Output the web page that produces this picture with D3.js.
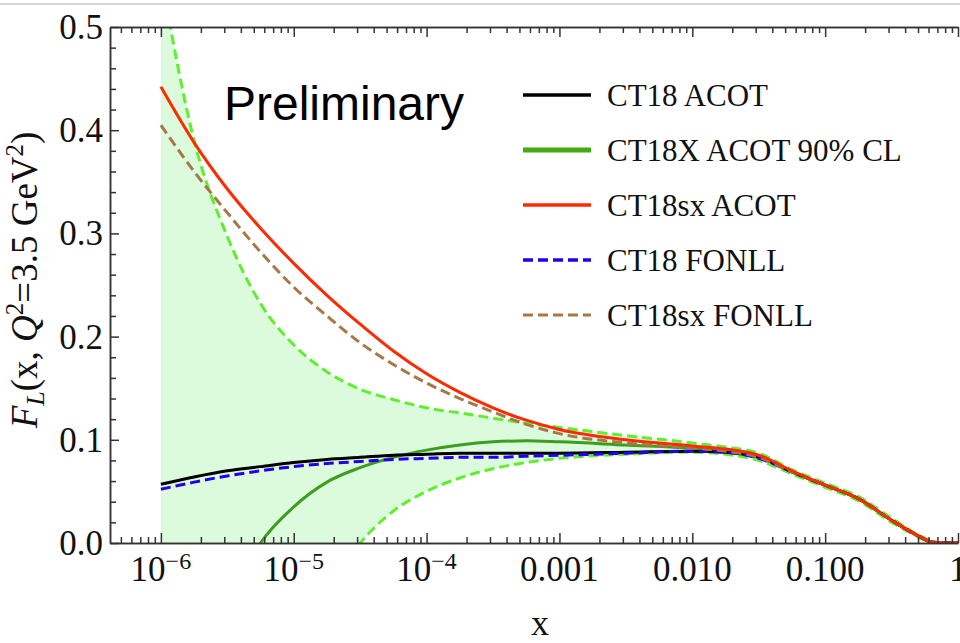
<!DOCTYPE html>
<html>
<head>
<meta charset="utf-8">
<script src="https://cdn.jsdelivr.net/npm/d3@7"></script>
<style>
  body { margin: 0; background: #fff; }
  svg { display: block; }
</style>
</head>
<body>
<div id="chart"></div>
<script>
// x grid as log10(x)
const logX = [-6, -5.75, -5.5, -5.25, -5, -4.75, -4.5, -4.25, -4, -3.75, -3.5, -3.25, -3,
              -2.5, -2, -1.75, -1.5, -1.25, -1, -0.75, -0.5, -0.3, -0.2, -0.1, 0];

const ct18Acot   = [0.057, 0.064, 0.070, 0.074, 0.078, 0.081, 0.083, 0.085, 0.086, 0.087, 0.087, 0.087, 0.087,
                    0.088, 0.089, 0.088, 0.083, 0.069, 0.056, 0.043, 0.022, 0.007, 0.001, 0, 0];
const ct18xMid   = [-0.20, -0.13, -0.06, 0.0, 0.035, 0.059, 0.073, 0.083, 0.090, 0.095, 0.098, 0.099, 0.098,
                    0.095, 0.092, 0.090, 0.084, 0.069, 0.056, 0.043, 0.022, 0.007, 0.001, 0, 0];
const ct18xUp    = [0.55, 0.39, 0.297, 0.232, 0.192, 0.166, 0.149, 0.139, 0.131, 0.126, 0.121, 0.116, 0.112,
                    0.104, 0.097, 0.093, 0.087, 0.071, 0.058, 0.045, 0.024, 0.008, 0.002, 0, 0];
const ct18xLow   = [-0.44, -0.34, -0.25, -0.17, -0.10, -0.045, 0.0, 0.031, 0.050, 0.063, 0.072, 0.078, 0.082,
                    0.086, 0.088, 0.086, 0.080, 0.067, 0.054, 0.041, 0.020, 0.006, 0, 0, 0];
const ct18sxAcot = [0.442, 0.388, 0.343, 0.305, 0.271, 0.240, 0.212, 0.186, 0.164, 0.146, 0.131, 0.119, 0.110,
                    0.100, 0.094, 0.091, 0.085, 0.070, 0.056, 0.043, 0.022, 0.007, 0.001, 0, 0];
const ct18Fonll  = [0.052, 0.059, 0.065, 0.070, 0.074, 0.077, 0.079, 0.081, 0.082, 0.083, 0.083, 0.084, 0.085,
                    0.087, 0.089, 0.088, 0.082, 0.069, 0.056, 0.043, 0.022, 0.007, 0.001, 0, 0];
const ct18sxFonll= [0.405, 0.360, 0.320, 0.282, 0.248, 0.220, 0.194, 0.173, 0.155, 0.140, 0.127, 0.115, 0.106,
                    0.097, 0.092, 0.089, 0.083, 0.069, 0.056, 0.043, 0.022, 0.007, 0.001, 0, 0];

const legendNames = ["CT18 ACOT", "CT18X ACOT 90% CL", "CT18sx ACOT", "CT18 FONLL", "CT18sx FONLL"];
const yTicks = [0, 0.1, 0.2, 0.3, 0.4, 0.5];
const xTicks = [1e-6, 1e-5, 1e-4, 1e-3, 1e-2, 1e-1, 1];
const xTickBase = ["10", "10", "10", "0.001", "0.010", "0.100", "1"];
const xTickExp  = ["−6", "−5", "−4", "", "", "", ""];

const W = 960, H = 643;
const mLeft = 110, mRight = 958, mTop = 27, mBottom = 543;

const svg = d3.select("#chart").append("svg")
  .attr("width", W)
  .attr("height", H);

// thin gray border line at top of the screenshot
svg.append("line")
  .attr("x1", 0).attr("x2", W).attr("y1", 4).attr("y2", 4)
  .attr("stroke", "#c8c8c8").attr("stroke-width", 1.5);

const x = d3.scaleLog().domain([Math.pow(10, -6.383), 1]).range([mLeft, mRight]);
const y = d3.scaleLinear().domain([0, 0.5]).range([mBottom, mTop]);

svg.append("clipPath").attr("id", "plotclip")
  .append("rect")
  .attr("x", mLeft).attr("y", mTop)
  .attr("width", mRight - mLeft).attr("height", mBottom - mTop);

const plot = svg.append("g").attr("clip-path", "url(#plotclip)");

const pts = vals => vals.map((v, i) => [Math.pow(10, logX[i]), v]);

// band
const band = d3.area()
  .x(d => x(d[0]))
  .y0(d => y(d[2]))
  .y1(d => y(d[1]))
  .curve(d3.curveMonotoneX);
plot.append("path")
  .datum(logX.map((l, i) => [Math.pow(10, l), ct18xUp[i], ct18xLow[i]]))
  .attr("d", band)
  .attr("fill", "#dcfadc");

const line = d3.line()
  .x(d => x(d[0]))
  .y(d => y(d[1]))
  .curve(d3.curveMonotoneX);

const series = [
  {vals: ct18xUp,     color: "#5ef02e", width: 3,   dash: "10,5"},
  {vals: ct18xLow,    color: "#5ef02e", width: 3,   dash: "10,5"},
  {vals: ct18xMid,    color: "#3c9e1e", width: 3,   dash: null},
  {vals: ct18Acot,    color: "#000000", width: 3,   dash: null},
  {vals: ct18Fonll,   color: "#2200ee", width: 3,   dash: "10,5"},
  {vals: ct18sxFonll, color: "#a67848", width: 3,   dash: "10,5"},
  {vals: ct18sxAcot,  color: "#ff2a00", width: 3,   dash: null}
];

series.forEach(s => {
  plot.append("path")
    .datum(pts(s.vals))
    .attr("d", line)
    .attr("fill", "none")
    .attr("stroke", s.color)
    .attr("stroke-width", s.width)
    .attr("stroke-dasharray", s.dash);
});

// minor ticks
const minorX = [];
for (let e = -7; e < 0; e++) {
  for (let m = 2; m <= 9; m++) {
    const v = m * Math.pow(10, e);
    if (x(v) > mLeft + 1 && x(v) < mRight) minorX.push(v);
  }
}
const minorY = d3.range(0, 0.5001, 0.02).filter(v => Math.round(v * 100) % 10 !== 0);

const axisColor = "#333";
function styleAxis(g) {
  g.selectAll("path,line").attr("stroke", axisColor).attr("stroke-width", 1.5);
  g.selectAll("text").remove();
}

svg.append("g").attr("transform", `translate(0,${mBottom})`)
  .call(d3.axisBottom(x).tickValues(xTicks).tickSize(-10).tickSizeOuter(0).tickFormat(""))
  .call(styleAxis);
svg.append("g").attr("transform", `translate(0,${mBottom})`)
  .call(d3.axisBottom(x).tickValues(minorX).tickSize(-6).tickSizeOuter(0).tickFormat(""))
  .call(styleAxis);
svg.append("g").attr("transform", `translate(0,${mTop})`)
  .call(d3.axisTop(x).tickValues(xTicks).tickSize(-10).tickSizeOuter(0).tickFormat(""))
  .call(styleAxis);
svg.append("g").attr("transform", `translate(0,${mTop})`)
  .call(d3.axisTop(x).tickValues(minorX).tickSize(-6).tickSizeOuter(0).tickFormat(""))
  .call(styleAxis);
svg.append("g").attr("transform", `translate(${mLeft},0)`)
  .call(d3.axisLeft(y).tickValues(yTicks).tickSize(-9).tickSizeOuter(0).tickFormat(""))
  .call(styleAxis);
svg.append("g").attr("transform", `translate(${mLeft},0)`)
  .call(d3.axisLeft(y).tickValues(minorY).tickSize(-6).tickSizeOuter(0).tickFormat(""))
  .call(styleAxis);

// tick labels
const serif = "'Liberation Serif', 'Times New Roman', serif";
xTicks.forEach((t, i) => {
  const txt = svg.append("text")
    .attr("x", x(t)).attr("y", 581)
    .attr("text-anchor", "middle")
    .attr("font-family", serif)
    .attr("font-size", 35)
    .attr("fill", "#111");
  txt.append("tspan").text(xTickBase[i]);
  if (xTickExp[i]) {
    txt.append("tspan").attr("dy", -12).attr("font-size", 24).text(xTickExp[i]);
  }
});

yTicks.forEach(t => {
  svg.append("text")
    .attr("x", 103).attr("y", y(t) + 12)
    .attr("text-anchor", "end")
    .attr("font-family", serif)
    .attr("font-size", 35)
    .attr("fill", "#111")
    .text(d3.format(".1f")(t));
});

// axis titles
svg.append("text")
  .attr("x", 540).attr("y", 635)
  .attr("text-anchor", "middle")
  .attr("font-family", serif)
  .attr("font-size", 36)
  .attr("fill", "#111")
  .text("x");

const ylab = svg.append("text")
  .attr("transform", "translate(37,280) rotate(-90)")
  .attr("text-anchor", "middle")
  .attr("font-family", serif)
  .attr("font-size", 37)
  .attr("fill", "#111");
ylab.append("tspan").attr("font-style", "italic").text("F");
ylab.append("tspan").attr("font-style", "italic").attr("font-size", 26).attr("dy", 7).text("L");
ylab.append("tspan").attr("dy", -7).text("(x, ");
ylab.append("tspan").attr("font-style", "italic").text("Q");
ylab.append("tspan").attr("font-size", 25).attr("dy", -14).text("2");
ylab.append("tspan").attr("dy", 14).text("=3.5 GeV");
ylab.append("tspan").attr("font-size", 25).attr("dy", -14).text("2");
ylab.append("tspan").attr("dy", 14).text(")");

// Preliminary
svg.append("text")
  .attr("x", 224).attr("y", 120)
  .attr("font-family", "'Liberation Sans', Arial, sans-serif")
  .attr("font-size", 48)
  .attr("fill", "#000")
  .text("Preliminary");

// legend
const legendStyle = [
  {color: "#000000", width: 3.5, dash: null},
  {color: "#44aa11", width: 5,   dash: null},
  {color: "#ff2a00", width: 3.5, dash: null},
  {color: "#2200ee", width: 3.5, dash: "10,5"},
  {color: "#a67848", width: 3,   dash: "10,5"}
];
legendNames.forEach((name, i) => {
  const cy = 95 + i * 55;
  svg.append("line")
    .attr("x1", 523).attr("x2", 591).attr("y1", cy).attr("y2", cy)
    .attr("stroke", legendStyle[i].color)
    .attr("stroke-width", legendStyle[i].width)
    .attr("stroke-dasharray", legendStyle[i].dash);
  svg.append("text")
    .attr("x", 607).attr("y", cy + 11)
    .attr("font-family", serif)
    .attr("font-size", 31)
    .attr("fill", "#111")
    .text(name);
});
</script>
</body>
</html>
